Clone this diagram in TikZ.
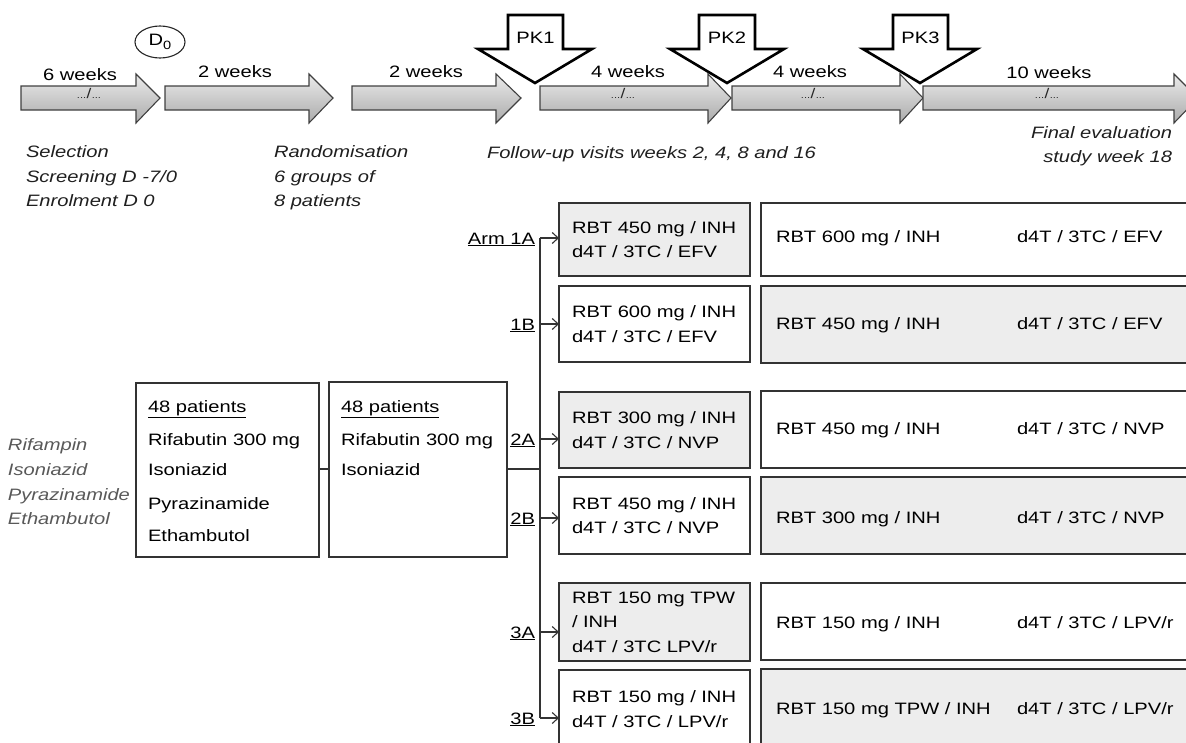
\documentclass[tikz,border=0pt]{standalone}
\usepackage{fontspec}
\setmainfont{Liberation Sans}[FakeStretch=1.22]
\usetikzlibrary{arrows.meta,shapes.geometric}
\begin{document}
\begin{tikzpicture}[x=1pt,y=-1pt,
  every node/.style={font=\fontsize{16.5}{24.5}\selectfont, text=black, inner sep=0pt, outer sep=0pt},
  tl/.style={anchor=base west},
  tr/.style={anchor=base east},
  tc/.style={anchor=base},
  itl/.style={anchor=base west, font=\fontsize{16.5}{24.5}\selectfont\itshape, text=black!88},
  itr/.style={anchor=base east, font=\fontsize{16.5}{24.5}\selectfont\itshape, text=black!88},
  lit/.style={anchor=base west, font=\fontsize{16.5}{24.5}\selectfont\itshape, text=black!65},
  tarrow/.style={draw=black!75, line width=1.1pt, top color=black!8, bottom color=black!33, line join=miter},
  pkarrow/.style={draw=black, line width=2.6pt, fill=white, line join=miter},
  dsh/.style={font=\fontsize{9}{9}\selectfont, text=black!85},
  box/.style={draw=black!80, line width=1.2pt},
  mbox/.style={box, minimum width=191, text width=165, align=left, inner xsep=13, inner ysep=0},
  rbox/.style={box, minimum width=440, anchor=north west},
  shade/.style={fill=black!7},
  conn/.style={draw=black!80, line width=1.2pt},
  armarrow/.style={conn, -{Straight Barb[length=6pt,width=11pt,line width=1.1pt]}}
]
\useasboundingbox (0,0) rectangle (1186,742);
\clip (0,0) rectangle (1186,742);

% ---- timeline arrows ----
\path[tarrow] (21,86) -- (136,86) -- (136,74) -- (160,98) -- (136,123) -- (136,110) -- (21,110) -- cycle;
\path[tarrow] (165,86) -- (309,86) -- (309,74) -- (333,98) -- (309,123) -- (309,110) -- (165,110) -- cycle;
\path[tarrow] (352,86) -- (496,86) -- (496,74) -- (521,98) -- (496,123) -- (496,110) -- (352,110) -- cycle;
\path[tarrow] (540,86) -- (708,86) -- (708,74) -- (731,98) -- (708,123) -- (708,110) -- (540,110) -- cycle;
\path[tarrow] (732,86) -- (900,86) -- (900,74) -- (923,98) -- (900,123) -- (900,110) -- (732,110) -- cycle;
\path[tarrow] (923,86) -- (1174,86) -- (1174,74) -- (1198,98) -- (1174,123) -- (1174,110) -- (923,110) -- cycle;

% breaks
\node[dsh] (br1) at (89,93) {...\kern0.5pt{\fontsize{14}{14}\selectfont /}\kern0.5pt...};
\node[dsh] (br4) at (623,93) {...\kern0.5pt{\fontsize{14}{14}\selectfont /}\kern0.5pt...};
\node[dsh] (br5) at (813,93) {...\kern0.5pt{\fontsize{14}{14}\selectfont /}\kern0.5pt...};
\node[dsh] (br6) at (1047,93) {...\kern0.5pt{\fontsize{14}{14}\selectfont /}\kern0.5pt...};

% week labels
\node[tc] (w1) at (80,80) {6 weeks};
\node[tc] (w2) at (235,77.5) {2 weeks};
\node[tc] (w3) at (426,77.5) {2 weeks};
\node[tc] (w4) at (628,77.5) {4 weeks};
\node[tc] (w5) at (810,77.5) {4 weeks};
\node[tc] (w6) at (1049,78.5) {10 weeks};

% D0
\node[ellipse, draw=black!85, line width=1.1pt, minimum width=50, minimum height=32] (d0) at (160,42) {D\raisebox{-4pt}{\fontsize{12}{12}\selectfont 0}};

% PK arrows
\path[pkarrow] (508,15) -- (563,15) -- (563,49) -- (592,49) -- (535,83) -- (478,49) -- (508,49) -- cycle;
\path[pkarrow] (699,15) -- (755,15) -- (755,49) -- (784,49) -- (727,83) -- (670,49) -- (699,49) -- cycle;
\path[pkarrow] (893,15) -- (948,15) -- (948,49) -- (977,49) -- (920,83) -- (863,49) -- (893,49) -- cycle;
\node[tc] (pk1) at (535.5,43) {PK1};
\node[tc] (pk2) at (727,43) {PK2};
\node[tc] (pk3) at (920.5,43) {PK3};

% phase captions
\node[itl] (s1) at (26,157) {Selection};
\node[itl] (s2) at (26,182) {Screening D -7/0};
\node[itl] (s3) at (26,206) {Enrolment D 0};
\node[itl] (r1t) at (274,157) {Randomisation};
\node[itl] (r2t) at (274,182) {6 groups of};
\node[itl] (r3t) at (274,206) {8 patients};
\node[itl] (fu) at (487,158) {Follow-up visits weeks 2, 4, 8 and 16};
\node[itr] (fe1) at (1172,138) {Final evaluation};
\node[itr] (fe2) at (1172,162) {study week 18};

% left captions
\node[lit] (c1) at (8,450) {Rifampin};
\node[lit] (c2) at (8,475) {Isoniazid};
\node[lit] (c3) at (8,500) {Pyrazinamide};
\node[lit] (c4) at (8,524) {Ethambutol};

% boxes A and B
\node[box, minimum width=183, minimum height=174] (bA) at (227.5,470) {};
\node[box, minimum width=178, minimum height=175] (bB) at (418,469.5) {};
\node[tl] (a1) at (148,412) {\underline{48 patients}};
\node[tl] (a2) at (148,445) {Rifabutin 300 mg};
\node[tl] (a3) at (148,475) {Isoniazid};
\node[tl] (a4) at (148,509) {Pyrazinamide};
\node[tl] (a5) at (148,541) {Ethambutol};
\node[tl] (b1) at (341,412) {\underline{48 patients}};
\node[tl] (b2) at (341,445) {Rifabutin 300 mg};
\node[tl] (b3) at (341,475) {Isoniazid};

% middle boxes
\node[mbox, shade, minimum height=73] (m1A) at (654.5,239.5) {RBT 450 mg / INH\\d4T / 3TC / EFV};
\node[mbox, minimum height=76] (m1B) at (654.5,324) {RBT 600 mg / INH\\d4T / 3TC / EFV};
\node[mbox, shade, minimum height=76] (m2A) at (654.5,430) {RBT 300 mg / INH\\d4T / 3TC / NVP};
\node[mbox, minimum height=77] (m2B) at (654.5,515.5) {RBT 450 mg / INH\\d4T / 3TC / NVP};
\node[mbox, shade, minimum height=78] (m3A) at (654.5,622) {RBT 150 mg TPW\\/ INH\\d4T / 3TC LPV/r};
\node[mbox, minimum height=78] (m3B) at (654.5,709) {RBT 150 mg / INH\\d4T / 3TC / LPV/r};

% right boxes
\node[rbox, minimum height=73] (r1) at (761,203) {};
\node[rbox, shade, minimum height=77] (r2) at (761,286) {};
\node[rbox, minimum height=77] (r3) at (761,391) {};
\node[rbox, shade, minimum height=77] (r4) at (761,477) {};
\node[rbox, minimum height=77] (r5) at (761,583) {};
\node[rbox, shade, minimum height=80] (r6) at (761,669) {};
\node[tl] (r1a) at (776,242) {RBT 600 mg / INH};
\node[tl] (r1b) at (1017,242) {d4T / 3TC / EFV};
\node[tl] (r2a) at (776,329) {RBT 450 mg / INH};
\node[tl] (r2b) at (1017,329) {d4T / 3TC / EFV};
\node[tl] (r3a) at (776,434) {RBT 450 mg / INH};
\node[tl] (r3b) at (1017,434) {d4T / 3TC / NVP};
\node[tl] (r4a) at (776,523) {RBT 300 mg / INH};
\node[tl] (r4b) at (1017,523) {d4T / 3TC / NVP};
\node[tl] (r5a) at (776,628) {RBT 150 mg / INH};
\node[tl] (r5b) at (1017,628) {d4T / 3TC / LPV/r};
\node[tl] (r6a) at (776,714) {RBT 150 mg TPW / INH};
\node[tl] (r6b) at (1017,714) {d4T / 3TC / LPV/r};

% trunk and arms
\coordinate (t1A) at (540,238);
\coordinate (t1B) at (540,324);
\coordinate (t2A) at (540,439);
\coordinate (t2B) at (540,518);
\coordinate (t3A) at (540,632);
\coordinate (t3B) at (540,718);
\coordinate (tj) at (540,469);
\draw[conn] (bA.east |- tj) -- (bB.west |- tj);
\draw[conn] (bB.east |- tj) -- (tj);
\draw[conn] (t1A) -- (t3B);
\draw[armarrow] (t1A) -- (t1A -| m1A.west);
\draw[armarrow] (t1B) -- (t1B -| m1B.west);
\draw[armarrow] (t2A) -- (t2A -| m2A.west);
\draw[armarrow] (t2B) -- (t2B -| m2B.west);
\draw[armarrow] (t3A) -- (t3A -| m3A.west);
\draw[armarrow] (t3B) -- (t3B -| m3B.west);
\node[tr] (l1A) at (535,244) {\underline{Arm 1A}};
\node[tr] (l1B) at (535,330) {\underline{1B}};
\node[tr] (l2A) at (535,445) {\underline{2A}};
\node[tr] (l2B) at (535,524) {\underline{2B}};
\node[tr] (l3A) at (535,638) {\underline{3A}};
\node[tr] (l3B) at (535,724) {\underline{3B}};
\end{tikzpicture}
\end{document}
